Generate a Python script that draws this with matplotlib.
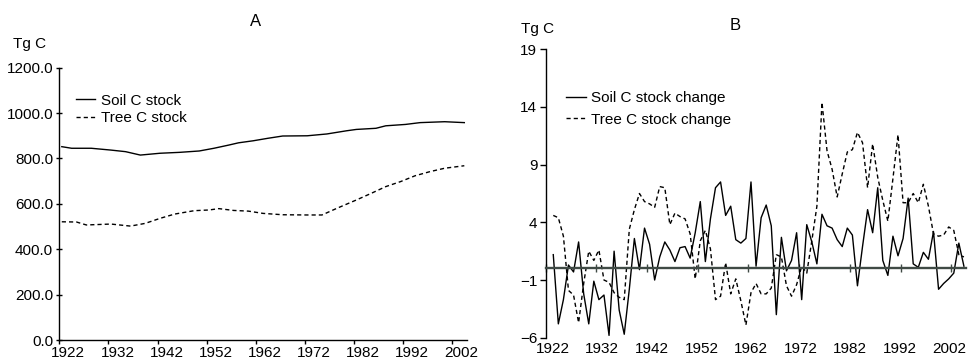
import numpy as np
import matplotlib.pyplot as plt
from matplotlib.transforms import ScaledTranslation

plt.rcParams['font.family'] = ['Liberation Sans', 'DejaVu Sans']

# Panel A: carbon stocks (Tg C), read at sample years
soil_years = [1922, 1924, 1928, 1932, 1935, 1938, 1942, 1946, 1950, 1953, 1956, 1958,
              1961, 1964, 1967, 1972, 1976, 1980, 1982, 1986, 1988, 1992, 1995, 2000, 2004]
soil_stock = [852, 845, 845, 837, 830, 815, 823, 827, 833, 845, 859, 869,
              878, 889, 899, 900, 908, 922, 928, 933, 944, 950, 958, 962, 958]

tree_years = [1922, 1925, 1927, 1932, 1936, 1939, 1942, 1945, 1949, 1952, 1954, 1957,
              1960, 1963, 1967, 1972, 1975, 1978, 1982, 1985, 1988, 1991, 1994, 1997,
              2000, 2004]
tree_stock = [521, 520, 507, 511, 502, 514, 536, 555, 570, 573, 579, 571,
              568, 558, 552, 551, 551, 580, 617, 646, 676, 698, 724, 742,
              757, 768]

# Panel B: annual stock changes (Tg C), 1923-2004
chg_years = list(range(1923, 2005))
soil_change = [1.2, -4.8, -2.7, 0.3, -0.3, 2.3, -2.2, -4.8, -1.1, -2.7,
               -2.3, -5.8, 1.5, -3.6, -5.7, -1.8, 2.6, -0.1, 3.5, 2.1,
               -1.0, 1.0, 2.3, 1.6, 0.6, 1.8, 1.9, 0.9, 3.1, 5.8,
               0.6, 4.3, 7.0, 7.5, 4.6, 5.4, 2.5, 2.2, 2.6, 7.5,
               0.2, 4.4, 5.5, 3.7, -4.0, 2.7, -0.2, 0.7, 3.1, -2.7,
               3.8, 2.3, 0.4, 4.7, 3.7, 3.5, 2.5, 1.9, 3.5, 2.9,
               -1.5, 1.9, 5.1, 3.1, 7.0, 0.7, -0.6, 2.8, 1.1, 2.6,
               6.1, 0.4, 0.1, 1.4, 0.8, 3.2, -1.8, -1.3, -0.9, -0.4,
               2.2, 0.2]
tree_change = [4.6, 4.4, 2.8, -1.9, -2.3, -4.7, -1.3, 1.5, 0.7, 1.6,
               -1.0, -1.2, -2.1, -2.5, -2.7, 3.4, 5.1, 6.5, 5.8, 5.6,
               5.3, 7.1, 7.0, 3.8, 4.8, 4.5, 4.3, 3.0, -0.9, 2.4,
               3.3, 1.7, -2.7, -2.4, 0.5, -2.2, -0.9, -2.8, -4.9, -2.1,
               -1.3, -2.2, -2.2, -1.7, 1.2, 1.0, -1.5, -2.4, -1.4, 0.2,
               -0.4, 2.4, 5.4, 14.4, 10.2, 8.6, 6.2, 8.2, 10.1, 10.3,
               11.8, 10.9, 7.0, 10.8, 7.9, 5.9, 4.1, 7.8, 11.6, 5.7,
               5.7, 6.5, 5.7, 7.3, 5.4, 3.0, 2.8, 2.9, 3.6, 3.3,
               1.2, 1.0]

tick_years = list(range(1922, 2003, 10))
DASH = (0, (3, 2.2))
FS = 11

fig = plt.figure(figsize=(9.68, 3.59), dpi=100)

# ---- Panel A ----
axA = fig.add_axes([0.0613, 0.0529, 0.4209, 0.7585])
axA.plot(np.array(soil_years) + 0.5, soil_stock, color='black', lw=1.0, label='Soil C stock')
axA.plot(np.array(tree_years) + 0.5, tree_stock, color='black', lw=1.0, linestyle=DASH,
         label='Tree C stock')
axA.set_xlim(1922, 2005)
axA.set_ylim(0, 1200)
axA.set_yticks(range(0, 1201, 200))
axA.set_yticklabels([f'{v:.1f}' for v in range(0, 1201, 200)])
axA.set_xticks(tick_years)
axA.set_xticklabels([str(y) for y in tick_years])
for s in ['top', 'right']:
    axA.spines[s].set_visible(False)
for s in ['left', 'bottom']:
    axA.spines[s].set_linewidth(1.0)
axA.tick_params(axis='y', direction='inout', length=5, width=1.0, pad=2, labelsize=FS)
axA.tick_params(axis='x', direction='out', length=3, width=1.0, pad=1, labelsize=FS)
for lab in axA.get_xticklabels():
    lab.set_transform(lab.get_transform() + ScaledTranslation(0.09, 0, fig.dpi_scale_trans))
axA.legend(loc='upper left', bbox_to_anchor=(0.041, 0.905), frameon=False,
           fontsize=11, handlelength=1.25, handletextpad=0.4, labelspacing=0.22,
           borderpad=0, borderaxespad=0)

# ---- Panel B ----
axB = fig.add_axes([0.5637, 0.0593, 0.4347, 0.8034])
axB.plot(np.array(chg_years) + 0.5, soil_change, color='black', lw=1.0,
         label='Soil C stock change')
axB.plot(np.array(chg_years) + 0.5, tree_change, color='black', lw=1.0, linestyle=DASH,
         label='Tree C stock change')
axB.set_xlim(1922, 2005)
axB.set_ylim(-6, 19)
axB.set_yticks([-6, -1, 4, 9, 14, 19])
for s in ['top', 'right']:
    axB.spines[s].set_visible(False)
axB.spines['left'].set_linewidth(1.0)
axB.spines['bottom'].set_position(('data', 0))
axB.spines['bottom'].set_color('#3f4a45')
axB.spines['bottom'].set_linewidth(1.7)
axB.set_xticks(tick_years)
axB.tick_params(axis='x', direction='inout', length=6, width=1.0, colors='#3f4a45',
                labelbottom=False)
axB.tick_params(axis='y', direction='out', length=4, width=1.0, pad=2, labelsize=FS)
secB = axB.secondary_xaxis('bottom')
secB.set_xticks(tick_years)
secB.set_xticklabels([str(y) for y in tick_years])
secB.spines['bottom'].set_visible(False)
secB.tick_params(axis='x', length=0, pad=3, labelsize=FS)
labs = secB.get_xticklabels()
for k, lab in enumerate(labs):
    shift = (7 - 9 * k / (len(labs) - 1)) / 100
    lab.set_transform(lab.get_transform() + ScaledTranslation(shift, 0, fig.dpi_scale_trans))
axB.legend(loc='upper left', bbox_to_anchor=(0.0475, 0.855), frameon=False,
           fontsize=11, handlelength=1.3, handletextpad=0.37, labelspacing=0.5,
           borderpad=0, borderaxespad=0)

# titles and unit labels
fig.text(256 / 968, 1 - 21 / 359, 'A', ha='center', va='center', fontsize=12)
fig.text(735 / 968, 1 - 25.5 / 359, 'B', ha='center', va='center', fontsize=12)
fig.text(30 / 968, 1 - 44 / 359, 'Tg C', ha='center', va='center', fontsize=FS)
fig.text(538 / 968, 1 - 29 / 359, 'Tg C', ha='center', va='center', fontsize=FS)

fig.savefig('out.png', dpi=100, facecolor='white')
